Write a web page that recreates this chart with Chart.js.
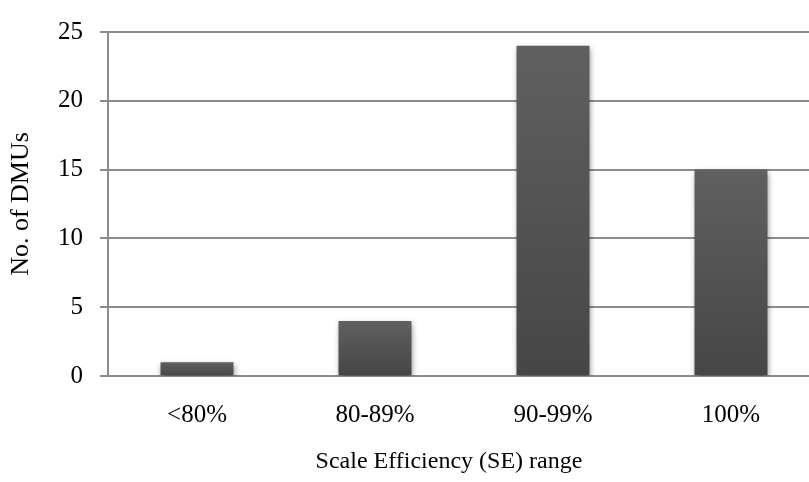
<!DOCTYPE html>
<html>
<head>
<meta charset="utf-8">
<script src="https://cdn.jsdelivr.net/npm/chart.js@4"></script>
<style>
  html, body { margin: 0; padding: 0; background: #fff; overflow: hidden; }
  #wrap { width: 820px; height: 482px; }
</style>
</head>
<body>
<div id="wrap"><canvas id="c" width="820" height="482"></canvas></div>
<script>
// Distribution of DMUs by scale efficiency range
const categories = ['<80%', '80-89%', '90-99%', '100%'];
const dmuCounts = [1, 4, 24, 15];
const yTicks = [0, 5, 10, 15, 20, 25];
const xTitle = 'Scale Efficiency (SE) range';
const yTitle = 'No. of DMUs';

const FONT = 'Liberation Serif, Times New Roman, serif';
const GRID = '#8c8c8c';

// Each bar gets its own vertical gradient, lighter at the top
function barFill(ctx) {
  const chart = ctx.chart;
  const y = chart.scales && chart.scales.y;
  if (!y || !chart.chartArea || ctx.raw == null) return '#555555';
  const top = y.getPixelForValue(ctx.raw);
  const bottom = y.getPixelForValue(0);
  const g = chart.ctx.createLinearGradient(0, top, 0, bottom);
  g.addColorStop(0, '#606060');
  g.addColorStop(1, '#464646');
  return g;
}

// Soft drop shadow under the bars
const barShadow = {
  id: 'barShadow',
  beforeDatasetsDraw(chart) {
    const c = chart.ctx;
    c.save();
    c.shadowColor = 'rgba(0,0,0,0.45)';
    c.shadowBlur = 6;
    c.shadowOffsetX = 1;
    c.shadowOffsetY = 3;
  },
  afterDatasetsDraw(chart) {
    chart.ctx.restore();
  }
};

// Horizontal axis title, centred under the visible page width
const bottomTitle = {
  id: 'bottomTitle',
  afterDraw(chart) {
    const c = chart.ctx;
    const x = chart.scales.x;
    c.save();
    c.font = '24px ' + FONT;
    c.fillStyle = '#000';
    c.textAlign = 'center';
    c.textBaseline = 'middle';
    c.fillText(xTitle, (x.left + 790) / 2, x.bottom - 20);
    c.restore();
  }
};

new Chart(document.getElementById('c'), {
  type: 'bar',
  data: {
    labels: categories,
    datasets: [{
      data: dmuCounts,
      backgroundColor: barFill,
      borderWidth: 0,
      categoryPercentage: 1,
      barPercentage: 0.41
    }]
  },
  options: {
    responsive: false,
    animation: false,
    devicePixelRatio: 1,
    layout: { padding: { top: 21, right: 0, bottom: 0, left: 0 } },
    plugins: { legend: { display: false }, tooltip: { enabled: false } },
    scales: {
      x: {
        grid: { display: false, drawTicks: false },
        border: { display: true, color: GRID, width: 2 },
        ticks: { color: '#000', font: { family: FONT, size: 25 }, padding: 24 },
        afterFit(scale) { scale.height = 106; }
      },
      y: {
        min: 0, max: 25,
        afterBuildTicks(scale) { scale.ticks = yTicks.map(v => ({ value: v })); },
        grid: { color: GRID, lineWidth: 2, tickLength: 8, drawTicks: true },
        border: { display: true, color: GRID, width: 2 },
        ticks: { color: '#000', font: { family: FONT, size: 25 }, padding: 17 },
        title: {
          display: true, text: yTitle, color: '#000',
          font: { family: FONT, size: 26 }, padding: { top: 6, bottom: 0 }
        },
        afterFit(scale) { scale.width = 108; }
      }
    }
  },
  plugins: [barShadow, bottomTitle]
});
</script>
</body>
</html>
